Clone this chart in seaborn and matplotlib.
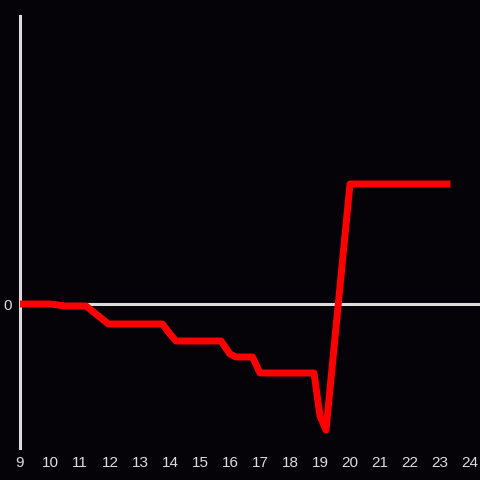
import matplotlib
matplotlib.use("Agg")
import matplotlib.pyplot as plt
import seaborn as sns
import pandas as pd

# ------------------------------------------------------------------
# DATA (hour of day vs. running value)
# ------------------------------------------------------------------
hours = [9.0, 10.0, 10.5, 11.2, 11.95, 13.75, 14.0, 14.2, 15.7, 16.0, 16.2,
         16.75, 17.0, 18.8, 19.0, 19.2, 20.0, 23.35]
values = [0, 0, -2, -2, -20, -20, -30, -37, -37, -50, -53,
          -53, -69, -69, -112, -126, 120, 120]
xticks = list(range(9, 25))

df = pd.DataFrame({"hour": hours, "value": values})

# ------------------------------------------------------------------
# STYLE
# ------------------------------------------------------------------
BG = "#050308"
FG = "#dcdcdc"
sns.set_theme(style="dark", rc={"axes.facecolor": BG, "figure.facecolor": BG})
plt.rcParams["font.family"] = ["Liberation Sans", "DejaVu Sans"]

fig = plt.figure(figsize=(4.8, 4.8), dpi=100)
ax = fig.add_axes([20 / 480, 32 / 480, 460 / 480, 432 / 480])

ax.axhline(0, color=FG, linewidth=2.2, zorder=1)
sns.lineplot(data=df, x="hour", y="value", color="#ff0000", linewidth=5,
             ax=ax, zorder=3)
ax.lines[-1].set_solid_capstyle("butt")

ax.set_xlim(9, 9 + 460 / 30)
ax.set_ylim(-144, 288)
ax.set_xticks(xticks)
ax.set_yticks([0])
ax.tick_params(axis="both", length=0, colors=FG, labelsize=11, pad=6)
ax.set_xlabel("")
ax.set_ylabel("")
ax.grid(False)

for side in ["top", "right", "bottom"]:
    ax.spines[side].set_visible(False)
ax.spines["left"].set_color(FG)
ax.spines["left"].set_linewidth(2.2)

fig.savefig("out.png", dpi=100, facecolor=BG)
